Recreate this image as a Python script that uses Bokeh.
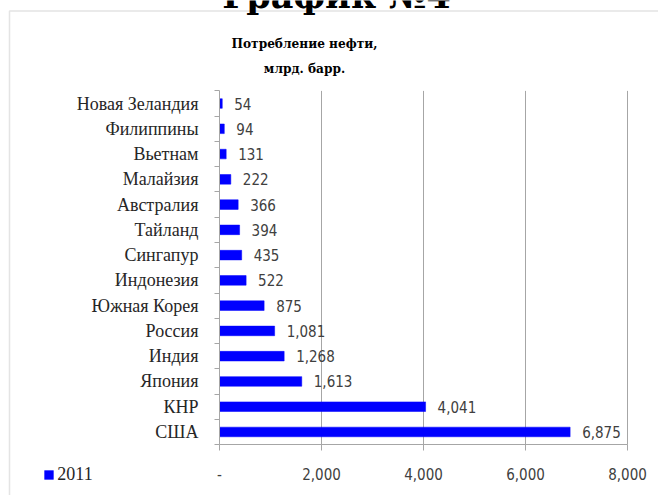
from bokeh.plotting import figure
from bokeh.models import (ColumnDataSource, FixedTicker, Label, BoxAnnotation,
                          Legend, LegendItem)
from bokeh.embed import file_html
from bokeh.resources import INLINE
from bokeh.core.properties import value

# ---------------- data ----------------
countries = ["Новая Зеландия", "Филиппины", "Вьетнам", "Малайзия", "Австралия",
             "Тайланд", "Сингапур", "Индонезия", "Южная Корея", "Россия",
             "Индия", "Япония", "КНР", "США"]
consumption = [54, 94, 131, 222, 366, 394, 435, 522, 875, 1081, 1268, 1613, 4041, 6875]
x_ticks = [0, 2000, 4000, 6000, 8000]
x_tick_labels = ["-", "2,000", "4,000", "6,000", "8,000"]
series_name = "2011"
chart_title = ["Потребление нефти,", "млрд. барр."]
page_title = "График №4"

# ---------------- layout (canvas px) ----------------
n = len(countries)
X0, X1 = x_ticks[0], x_ticks[-1]
W, H = 658, 495
PL, PR = 219, 627          # plot-area left/right px
PT, PB = 90.4, 444.1       # plot-area top/bottom px
xs_per_px = (X1 - X0) / (PR - PL)
ys_per_px = n / (PB - PT)

def dx(px):
    return X0 + (px - PL) * xs_per_px

def dy(py):
    return (n - 0.5) - (py - PT) * ys_per_px

ys = [n - 1 - i for i in range(n)]
src = ColumnDataSource(dict(
    y=ys, x=consumption, lbl=[f"{v:,}" for v in consumption], name=countries))

p = figure(width=W, height=H, min_border=0,
           x_range=(dx(0), dx(W)), y_range=(dy(H), dy(0)),
           output_backend="svg", toolbar_location=None,
           background_fill_color="white", border_fill_color="white")
p.outline_line_color = None
p.xgrid.visible = False
p.ygrid.visible = False

grey = "#a6a6a6"
num_font = "DejaVu Sans Condensed"
lab_font = "Liberation Serif"
title_font = "DejaVu Serif Condensed"

# chart border
p.add_layout(BoxAnnotation(left=dx(9), right=dx(W + 60), top=dy(10.5), bottom=dy(H + 60),
                           fill_alpha=0, line_color=grey, line_width=1.5))

# vertical gridlines
p.segment(x0=x_ticks[1:], x1=x_ticks[1:], y0=-0.5, y1=n - 0.5,
          line_color=grey, line_width=1)

r = p.hbar(y="y", right="x", left=0, height=0.38, source=src,
           fill_color="#0000FF", line_color="#0000FF", line_width=0.5)

p.text(x="x", y="y", text="lbl", source=src, x_offset=12,
       text_baseline="middle", text_align="left",
       text_font=value(num_font), text_font_size="15px",
       text_color="#404040")

# x axis
p.xaxis.fixed_location = -0.5
p.xaxis.bounds = (X0, X1)
p.xaxis.ticker = FixedTicker(ticks=x_ticks)
p.xaxis.major_label_overrides = dict(zip(x_ticks, x_tick_labels))
p.xaxis.axis_line_color = grey
p.xaxis.major_tick_line_color = grey
p.xaxis.major_tick_out = 6
p.xaxis.major_tick_in = 0
p.xaxis.minor_tick_out = 0
p.xaxis.major_label_standoff = 17
p.xaxis.major_label_text_font = num_font
p.xaxis.major_label_text_font_size = "15px"
p.xaxis.major_label_text_color = "#404040"

# y axis
bounds = [i - 0.5 for i in range(n + 1)]
p.yaxis.fixed_location = 0
p.yaxis.bounds = (-0.5, n - 0.5)
p.yaxis.ticker = FixedTicker(ticks=ys, minor_ticks=bounds)
p.yaxis.major_label_overrides = {y: c for y, c in zip(ys, countries)}
p.yaxis.axis_line_color = grey
p.yaxis.major_tick_out = 0
p.yaxis.major_tick_in = 0
p.yaxis.minor_tick_out = 5
p.yaxis.minor_tick_in = 0
p.yaxis.minor_tick_line_color = grey
p.yaxis.major_label_standoff = 16
p.yaxis.major_label_text_font = lab_font
p.yaxis.major_label_text_font_size = "18px"
p.yaxis.major_label_text_color = "#262626"

# titles
p.add_layout(Label(x=dx(336), y=dy(-5), text=page_title, text_align="center",
                   text_baseline="alphabetic", text_font="DejaVu Serif",
                   text_font_style="bold", text_font_size="35px", text_color="black"))
for i, line in enumerate(chart_title):
    p.add_layout(Label(x=dx(304), y=dy(42 + 25 * i), text=line, text_align="center",
                       text_baseline="middle", text_font=title_font,
                       text_font_style="bold", text_font_size="13.5px", text_color="black"))

# legend
leg = Legend(items=[LegendItem(label=series_name, renderers=[r])],
             location=(43.3, H - 485),
             glyph_width=11, glyph_height=11, label_height=11,
             label_standoff=3, padding=0, margin=0, spacing=0,
             border_line_color=None, background_fill_alpha=0,
             label_text_font=lab_font, label_text_font_size="18px",
             label_text_color="#262626", label_text_baseline="middle")
p.add_layout(leg)

open("out.html", "w").write(file_html(p, INLINE))
